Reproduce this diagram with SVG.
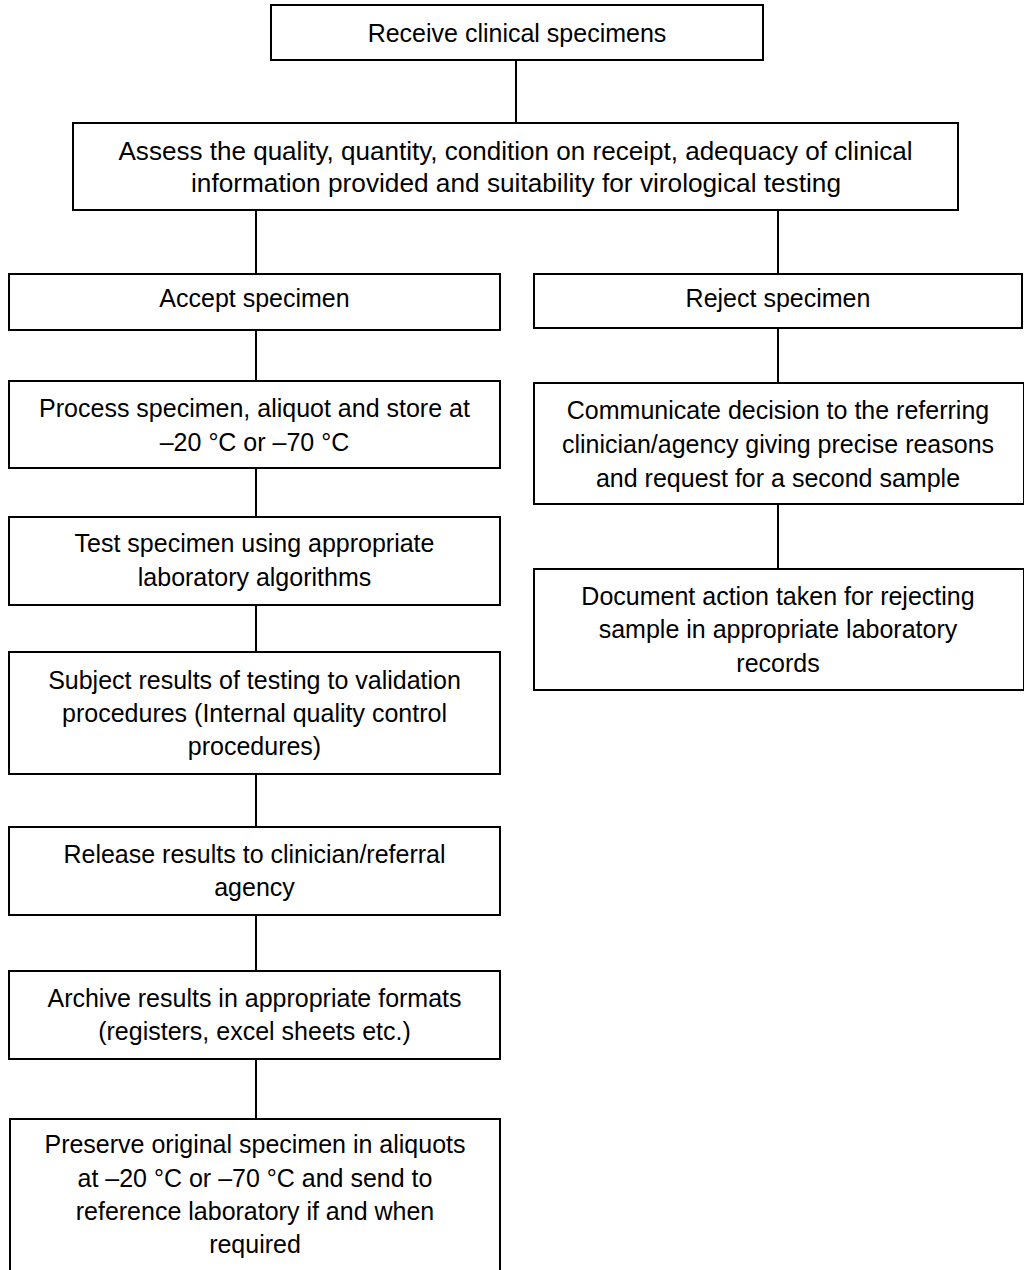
<svg xmlns="http://www.w3.org/2000/svg" width="1024" height="1270" viewBox="0 0 1024 1270">
<style>
  .box { fill: #ffffff; stroke: #000000; stroke-width: 2; }
  .conn { stroke: #000000; stroke-width: 2; fill: none; }
  text { font-family: "Liberation Sans", Arial, sans-serif; font-size: 25px; fill: #000000; text-anchor: middle; }
  .narrow { font-size: 26px; }
</style>
<rect x="0" y="0" width="1024" height="1270" fill="#ffffff"/>
<g id="connectors">
  <line class="conn" x1="516" y1="60" x2="516" y2="123"/>
  <line class="conn" x1="256" y1="210" x2="256" y2="274"/>
  <line class="conn" x1="778" y1="210" x2="778" y2="274"/>
  <line class="conn" x1="256" y1="330" x2="256" y2="381"/>
  <line class="conn" x1="256" y1="468" x2="256" y2="517"/>
  <line class="conn" x1="256" y1="605" x2="256" y2="652"/>
  <line class="conn" x1="256" y1="774" x2="256" y2="827"/>
  <line class="conn" x1="256" y1="915" x2="256" y2="971"/>
  <line class="conn" x1="256" y1="1059" x2="256" y2="1119"/>
  <line class="conn" x1="778" y1="328" x2="778" y2="383"/>
  <line class="conn" x1="778" y1="504" x2="778" y2="569"/>
</g>
<g id="receive">
  <rect class="box" x="271" y="5" width="492" height="55"/>
  <text x="517" y="42">Receive clinical specimens</text>
</g>
<g id="assess">
  <rect class="box" x="73" y="123" width="885" height="87"/>
  <text class="narrow" x="515.5" y="160" textLength="794" lengthAdjust="spacingAndGlyphs">Assess the quality, quantity, condition on receipt, adequacy of clinical</text>
  <text class="narrow" x="516" y="192" textLength="650" lengthAdjust="spacingAndGlyphs">information provided and suitability for virological testing</text>
</g>
<g id="accept">
  <rect class="box" x="9" y="274" width="491" height="56"/>
  <text x="254.5" y="307">Accept specimen</text>
</g>
<g id="reject">
  <rect class="box" x="534" y="274" width="488" height="54"/>
  <text x="778" y="307">Reject specimen</text>
</g>
<g id="process">
  <rect class="box" x="9" y="381" width="491" height="87"/>
  <text x="254.5" y="417">Process specimen, aliquot and store at</text>
  <text x="254.5" y="451">–20 °C or –70 °C</text>
</g>
<g id="test">
  <rect class="box" x="9" y="517" width="491" height="88"/>
  <text x="254.5" y="552">Test specimen using appropriate</text>
  <text x="254.5" y="586">laboratory algorithms</text>
</g>
<g id="subject">
  <rect class="box" x="9" y="652" width="491" height="122"/>
  <text x="254.5" y="689">Subject results of testing to validation</text>
  <text x="254.5" y="722">procedures (Internal quality control</text>
  <text x="254.5" y="755">procedures)</text>
</g>
<g id="release">
  <rect class="box" x="9" y="827" width="491" height="88"/>
  <text x="254.5" y="863">Release results to clinician/referral</text>
  <text x="254.5" y="896">agency</text>
</g>
<g id="archive">
  <rect class="box" x="9" y="971" width="491" height="88"/>
  <text x="254.5" y="1007">Archive results in appropriate formats</text>
  <text x="254.5" y="1040">(registers, excel sheets etc.)</text>
</g>
<g id="preserve">
  <rect class="box" x="10" y="1119" width="490" height="160"/>
  <text x="255" y="1153">Preserve original specimen in aliquots</text>
  <text x="255" y="1187">at –20 °C or –70 °C and send to</text>
  <text x="255" y="1220">reference laboratory if and when</text>
  <text x="255" y="1253">required</text>
</g>
<g id="communicate">
  <rect class="box" x="534" y="383" width="490" height="121"/>
  <text x="778" y="419">Communicate decision to the referring</text>
  <text x="778" y="453">clinician/agency giving precise reasons</text>
  <text x="778" y="487">and request for a second sample</text>
</g>
<g id="document">
  <rect class="box" x="534" y="569" width="490" height="121"/>
  <text x="778" y="605">Document action taken for rejecting</text>
  <text x="778" y="638">sample in appropriate laboratory</text>
  <text x="778" y="672">records</text>
</g>
</svg>
